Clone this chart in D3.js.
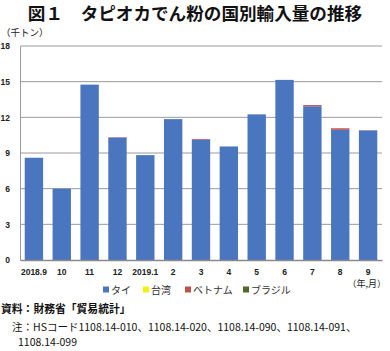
<!DOCTYPE html>
<html><head><meta charset="utf-8">
<script src="https://cdn.jsdelivr.net/npm/d3@7"></script>
<style>
html,body{margin:0;padding:0;background:#fff;}
svg{display:block;font-family:"Noto Sans CJK JP","Noto Sans",sans-serif;}
</style></head>
<body><svg id="c" width="390" height="351"></svg>
<script>
const categories = ["2018.9","10","11","12","2019.1","2","3","4","5","6","7","8","9"];
const seriesNames = ["タイ","台湾","ベトナム","ブラジル"];
const thai    = [8.6, 6.0, 14.75, 10.3, 8.82, 11.85, 10.12, 9.55, 12.25, 15.15, 12.93, 10.95, 10.9];
const taiwan  = [0, 0, 0, 0, 0, 0, 0, 0, 0, 0, 0, 0, 0];
const vietnam = [0, 0, 0, 0.03, 0, 0, 0.06, 0, 0, 0, 0.1, 0.13, 0.02];
const brazil  = [0, 0, 0, 0, 0, 0, 0, 0, 0, 0, 0, 0, 0];
const yTicks = [0, 3, 6, 9, 12, 15, 18];
const colors = ["#4a76c0", "#f2f20a", "#c0504d", "#4f6a2a"];

const svg = d3.select("#c");
const rows = categories.map((c, i) => ({cat: c, "タイ": thai[i], "台湾": taiwan[i], "ベトナム": vietnam[i], "ブラジル": brazil[i]}));
const stacked = d3.stack().keys(seriesNames)(rows);

const x = d3.scaleBand().domain(categories).range([20, 382]).paddingInner(0.34).paddingOuter(0.17);
const y = d3.scaleLinear().domain([0, 18]).range([260, 46]);

// title
svg.append("text").attr("x", 195).attr("y", 20).attr("text-anchor", "middle")
  .attr("font-size", 17.6).attr("font-weight", "bold").attr("fill", "#111")
  .text("図１　タピオカでん粉の国別輸入量の推移");

// unit
svg.append("text").attr("x", 1).attr("y", 36).attr("font-size", 9.5).attr("fill", "#222").text("（千トン）");

// gridlines
svg.append("g").selectAll("line").data(yTicks.filter(d => d > 0)).join("line")
  .attr("x1", 20).attr("x2", 382).attr("y1", d => y(d)).attr("y2", d => y(d))
  .attr("stroke", "#9a9a9a").attr("stroke-width", 1);

// y axis
const yAxis = svg.append("g").attr("transform", "translate(20,0)")
  .call(d3.axisLeft(y).tickValues(yTicks).tickSize(0).tickPadding(10));
yAxis.select(".domain").attr("stroke", "#9a9a9a");
yAxis.selectAll("text").attr("font-size", 8.5).attr("font-weight", "bold").attr("fill", "#222")
  .attr("font-family", "Liberation Sans, Arial, sans-serif");

// bars
svg.append("g").selectAll("g").data(stacked).join("g").attr("fill", (d, i) => colors[i])
  .selectAll("rect").data(d => d).join("rect")
  .attr("x", d => x(d.data.cat)).attr("width", x.bandwidth())
  .attr("y", d => y(d[1])).attr("height", d => Math.max(0, y(d[0]) - y(d[1])));

// x axis
const xAxis = svg.append("g").attr("transform", "translate(0,260)")
  .call(d3.axisBottom(x).tickSize(0).tickPadding(9));
xAxis.select(".domain").attr("stroke", "#8a8a8a").attr("stroke-width", 1.5);
xAxis.selectAll("text").attr("font-size", 8.5).attr("font-weight", "bold").attr("fill", "#222")
  .attr("font-family", "Liberation Sans, Arial, sans-serif");

svg.append("text").attr("x", 386).attr("y", 287).attr("text-anchor", "end")
  .attr("font-size", 9).attr("fill", "#222").text("（年,月）");

// legend
const legendX = [103, 143, 185, 243];
const lg = svg.append("g").selectAll("g").data(seriesNames).join("g")
  .attr("transform", (d, i) => `translate(${legendX[i]},290)`);
lg.append("rect").attr("x", 0).attr("y", -3.5).attr("width", 6).attr("height", 6).attr("fill", (d, i) => colors[i]);
lg.append("text").attr("x", 8).attr("y", 3.5).attr("font-size", 10).attr("fill", "#333").text(d => d);

// notes
svg.append("text").attr("x", 1).attr("y", 313).attr("font-size", 10.8).attr("font-weight", "bold").attr("fill", "#111")
  .text("資料：財務省「貿易統計」");
svg.append("text").attr("x", 12).attr("y", 331).attr("font-size", 10.5).attr("fill", "#111")
  .text("注：HSコード1108.14-010、1108.14-020、1108.14-090、1108.14-091、");
svg.append("text").attr("x", 18).attr("y", 346).attr("font-size", 10.5).attr("fill", "#111")
  .text("1108.14-099");
</script></body></html>
